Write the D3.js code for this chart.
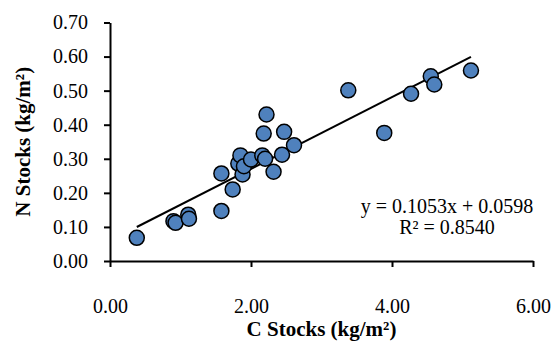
<!DOCTYPE html>
<html>
<head>
<meta charset="utf-8">
<script src="https://cdn.jsdelivr.net/npm/d3@7"></script>
<style>
  body { margin: 0; background: #fff; }
  .axis path, .axis line { stroke: #000; stroke-width: 2; }
  .axis text { font-family: "Liberation Serif", "Times New Roman", serif; font-size: 20px; fill: #000; }
</style>
</head>
<body>
<div id="chart"></div>
<script>
// C stocks (kg/m2) and N stocks (kg/m2)
const cStocks = [0.38, 0.90, 0.93, 1.11, 1.12, 1.58, 1.58, 1.74, 1.82, 1.85, 1.88, 1.90, 2.00,
                 2.16, 2.18, 2.20, 2.22, 2.32, 2.44, 2.47, 2.61, 3.38, 3.89, 4.27, 4.55, 4.60, 5.12];
const nStocks = [0.068, 0.117, 0.112, 0.136, 0.124, 0.147, 0.257, 0.210, 0.286, 0.310, 0.254, 0.278, 0.298,
                 0.310, 0.374, 0.300, 0.430, 0.262, 0.312, 0.379, 0.340, 0.501, 0.376, 0.491, 0.542, 0.518, 0.559];
const xTicks = [0, 2, 4, 6];
const yTicks = [0, 0.1, 0.2, 0.3, 0.4, 0.5, 0.6, 0.7];
const slope = 0.1053;
const intercept = 0.0598;
const eqLabel = "y = 0.1053x + 0.0598";
const r2Label = "R² = 0.8540";

const dims = {
  width: 554, height: 344,
  marginTop: 22.5, marginRight: 21, marginBottom: 83, marginLeft: 110
};
dims.boundedWidth = dims.width - dims.marginLeft - dims.marginRight;
dims.boundedHeight = dims.height - dims.marginTop - dims.marginBottom;

const svg = d3.select("#chart")
  .append("svg")
    .attr("width", dims.width)
    .attr("height", dims.height);

const bounds = svg.append("g")
  .attr("transform", `translate(${dims.marginLeft}, ${dims.marginTop})`);

const xScale = d3.scaleLinear().domain([0, 6]).range([0, dims.boundedWidth]);
const yScale = d3.scaleLinear().domain([0, 0.7]).range([dims.boundedHeight, 0]);

// axes
const xAxis = bounds.append("g")
  .attr("class", "axis")
  .attr("transform", `translate(0, ${dims.boundedHeight})`)
  .call(d3.axisBottom(xScale).tickValues(xTicks).tickFormat(d3.format(".2f")).tickSizeInner(6).tickSizeOuter(0).tickPadding(32));
xAxis.selectAll("text").attr("dy", "0.71em");

const yAxis = bounds.append("g")
  .attr("class", "axis")
  .call(d3.axisLeft(yScale).tickValues(yTicks).tickFormat(d3.format(".2f")).tickSizeInner(6).tickSizeOuter(0).tickPadding(16));

// trendline over the data range
const xExt = d3.extent(cStocks);
bounds.append("line")
  .attr("x1", xScale(xExt[0]))
  .attr("y1", yScale(slope * xExt[0] + intercept))
  .attr("x2", xScale(xExt[1]))
  .attr("y2", yScale(slope * xExt[1] + intercept))
  .attr("stroke", "#000")
  .attr("stroke-width", 2);

// points
bounds.selectAll("circle")
  .data(cStocks.map((c, i) => ({ c: c, n: nStocks[i] })))
  .enter()
  .append("circle")
    .attr("cx", d => xScale(d.c))
    .attr("cy", d => yScale(d.n))
    .attr("r", 7.5)
    .attr("fill", "#4F81BD")
    .attr("stroke", "#000")
    .attr("stroke-width", 1.5);

// equation
const eq = bounds.append("text")
  .attr("font-family", "Liberation Serif, Times New Roman, serif")
  .attr("font-size", 20)
  .attr("text-anchor", "middle")
  .attr("x", 337)
  .attr("y", 190.5);
eq.append("tspan").text(eqLabel);
eq.append("tspan").attr("x", 337).attr("dy", 21).text(r2Label);

// axis titles
svg.append("text")
  .attr("font-family", "Liberation Serif, Times New Roman, serif")
  .attr("font-size", 21)
  .attr("font-weight", "bold")
  .attr("text-anchor", "middle")
  .attr("x", dims.marginLeft + dims.boundedWidth / 2)
  .attr("y", 336)
  .text("C Stocks (kg/m²)");

svg.append("text")
  .attr("font-family", "Liberation Serif, Times New Roman, serif")
  .attr("font-size", 21)
  .attr("font-weight", "bold")
  .attr("text-anchor", "middle")
  .attr("transform", `translate(30, ${dims.marginTop + dims.boundedHeight / 2}) rotate(-90)`)
  .text("N Stocks (kg/m²)");
</script>
</body>
</html>
